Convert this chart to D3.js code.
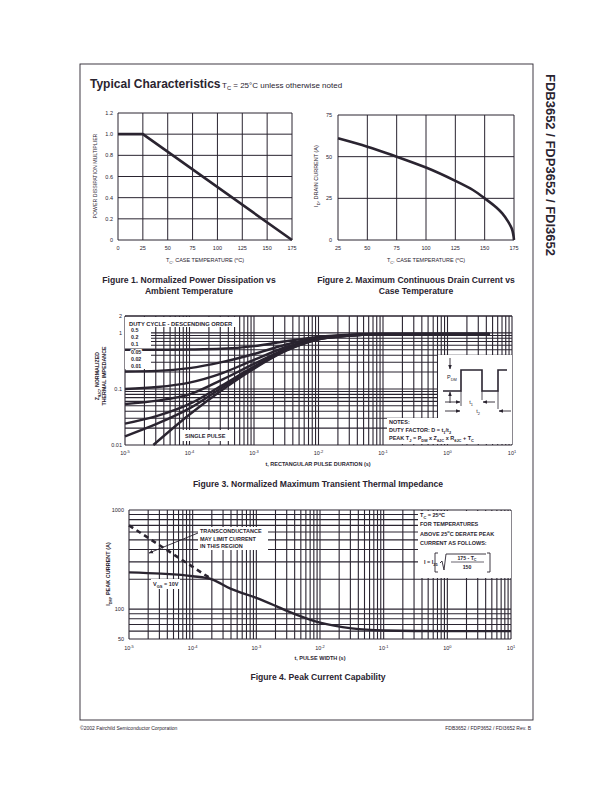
<!DOCTYPE html>
<html><head><meta charset="utf-8">
<script src="https://cdn.jsdelivr.net/npm/d3@7"></script>
<style>
body{margin:0;background:#fff}
svg{display:block}
text{font-family:"Liberation Sans",Arial,Helvetica,sans-serif;fill:#2a2430}
text.halo{stroke:#fff;stroke-width:2.2px;paint-order:stroke;stroke-linejoin:round}
</style>
</head><body>
<svg id="c" width="612" height="792"></svg>
<script>
// ---------------- DATA ----------------
// Figure 1
const fig1Temp = [0, 25, 175];
const fig1Mult = [1.0, 1.0, 0];
const fig1XTicks = [0, 25, 50, 75, 100, 125, 150, 175];
const fig1YTicks = [0, 0.2, 0.4, 0.6, 0.8, 1.0, 1.2];
// Figure 2
const fig2Temp = [25, 50, 75, 100, 125, 140, 150, 160, 165, 170, 173, 175];
const fig2Current = [61, 56, 50, 43.5, 35.5, 30, 25, 19.5, 16, 11, 7, 0];
const fig2XTicks = [25, 50, 75, 100, 125, 150, 175];
const fig2YTicks = [0, 25, 50, 75];
// Figure 3
const fig3Time = [1e-5, 3.16e-5, 1e-4, 3.16e-4, 1e-3, 3.16e-3, 1e-2, 3.16e-2, 1e-1, 1, 4.5];
const fig3D05 = [0.50, 0.50, 0.505, 0.52, 0.58, 0.71, 0.85, 0.93, 0.96, 0.96, 0.96];
const fig3D02 = [0.205, 0.21, 0.235, 0.30, 0.42, 0.62, 0.82, 0.92, 0.955, 0.96, 0.96];
const fig3D01 = [0.10, 0.108, 0.13, 0.19, 0.33, 0.56, 0.80, 0.91, 0.95, 0.955, 0.955];
const fig3D005 = [0.054, 0.062, 0.08, 0.145, 0.28, 0.52, 0.79, 0.905, 0.945, 0.95, 0.95];
const fig3D002 = [0.024, 0.033, 0.054, 0.115, 0.25, 0.50, 0.78, 0.90, 0.94, 0.945, 0.945];
const fig3D001 = [0.0143, 0.024, 0.045, 0.105, 0.24, 0.49, 0.77, 0.895, 0.94, 0.945, 0.945];
const fig3SingleTime = [2.75e-5, 1e-4, 3.16e-4, 1e-3, 3.16e-3, 1e-2, 3.16e-2, 1e-1, 1, 4.5];
const fig3Single = [0.01, 0.035, 0.095, 0.23, 0.48, 0.765, 0.895, 0.94, 0.945, 0.945];
const fig3DutyLabels = ["0.5", "0.2", "0.1", "0.05", "0.02", "0.01"];
const fig3YLabels = [2, 1, 0.1, 0.01];
const decadeExps = [-5, -4, -3, -2, -1, 0, 1];
// Figure 4
const fig4Time = [1e-5, 3.16e-5, 1e-4, 2e-4, 4e-4, 1e-3, 2e-3, 3.16e-3, 1e-2, 3.16e-2, 1e-1, 1, 10];
const fig4Current = [235, 228, 215, 200, 160, 130, 108, 95, 73, 64, 61, 60, 60];
const fig4DashTime = [1e-5, 2e-4];
const fig4DashCurrent = [700, 200];
const fig4YLabels = [1000, 100, 50];

// ---------------- HELPERS ----------------
const INK = "#2a2430";
const svg = d3.select("#c");
const defs = svg.append("defs");
defs.append("marker").attr("id","ah").attr("viewBox","0 0 10 10").attr("refX",9).attr("refY",5)
  .attr("markerWidth",5).attr("markerHeight",5).attr("orient","auto-start-reverse")
  .append("path").attr("d","M0,1 L10,5 L0,9 Z").attr("fill",INK);

function rich(parent, x, y, parts, size, opt = {}) {
  const t = parent.append("text").attr("x", x).attr("y", y).attr("font-size", size)
    .attr("text-anchor", opt.anchor || "start");
  if (opt.bold) t.attr("font-weight", "bold");
  if (opt.cls) t.attr("class", opt.cls);
  if (opt.rotate) t.attr("transform", `rotate(${opt.rotate},${x},${y})`);
  let cur = 0;
  parts.forEach(p => {
    if (typeof p === "string") p = { t: p };
    const off = p.sub ? size * 0.3 : p.sup ? -size * 0.45 : 0;
    const ts = t.append("tspan").text(p.t).attr("dy", off - cur);
    if (p.sub || p.sup) ts.attr("font-size", size * 0.72);
    cur = off;
  });
  return t;
}

// ---------------- PAGE ----------------
svg.append("rect").attr("x", 80).attr("y", 64).attr("width", 453).attr("height", 656)
  .attr("fill", "none").attr("stroke", INK).attr("stroke-width", 0.9);
rich(svg, 90, 88, ["Typical Characteristics"], 12, { bold: true });
rich(svg, 222, 88, ["T", { t: "C", sub: true }, " = 25°C unless otherwise noted"], 8);
rich(svg, 546, 165, ["FDB3652 / FDP3652 / FDI3652"], 13, { bold: true, anchor: "middle", rotate: 90 });
rich(svg, 80, 730, ["©2002 Fairchild Semiconductor Corporation"], 5);
rich(svg, 531, 730, ["FDB3652 / FDP3652 / FDI3652 Rev. B"], 5, { anchor: "end" });

// ---------------- FIGURE 1 ----------------
{
  const g = svg.append("g");
  const x = d3.scaleLinear().domain([0, 175]).range([118, 292]);
  const y = d3.scaleLinear().domain([0, 1.2]).range([240, 113]);
  g.selectAll(".vx").data(fig1XTicks).join("line")
    .attr("x1", d => x(d)).attr("x2", d => x(d)).attr("y1", y(0)).attr("y2", y(1.2))
    .attr("stroke", INK).attr("stroke-width", 1);
  g.selectAll(".hy").data(fig1YTicks).join("line")
    .attr("y1", d => y(d)).attr("y2", d => y(d)).attr("x1", x(0)).attr("x2", x(175))
    .attr("stroke", INK).attr("stroke-width", 1);
  g.append("path").datum(fig1Temp.map((t, i) => [t, fig1Mult[i]]))
    .attr("d", d3.line().x(d => x(d[0])).y(d => y(d[1])))
    .attr("fill", "none").attr("stroke", INK).attr("stroke-width", 2.6);
  fig1XTicks.forEach(t => rich(g, x(t), 250, [String(t)], 5.5, { anchor: "middle" }));
  fig1YTicks.forEach(v => rich(g, 113, y(v) + 2, [v === 0 ? "0" : v.toFixed(1)], 5.5, { anchor: "end" }));
  rich(g, 205, 262, ["T", { t: "C", sub: true }, ", CASE TEMPERATURE (", { t: "o", sup: true }, "C)"], 5.5, { anchor: "middle" });
  rich(g, 97, 176, ["POWER DISSIPATION MULTIPLIER"], 5.2, { anchor: "middle", rotate: -90 });
  rich(g, 189, 283, ["Figure 1.  Normalized Power Dissipation vs"], 8.6, { anchor: "middle", bold: true });
  rich(g, 189, 294, ["Ambient Temperature"], 8.6, { anchor: "middle", bold: true });
}

// ---------------- FIGURE 2 ----------------
{
  const g = svg.append("g");
  const x = d3.scaleLinear().domain([25, 175]).range([338, 514]);
  const y = d3.scaleLinear().domain([0, 75]).range([240, 115]);
  g.selectAll(".vx").data(fig2XTicks).join("line")
    .attr("x1", d => x(d)).attr("x2", d => x(d)).attr("y1", y(0)).attr("y2", y(75))
    .attr("stroke", INK).attr("stroke-width", 1);
  g.selectAll(".hy").data(fig2YTicks).join("line")
    .attr("y1", d => y(d)).attr("y2", d => y(d)).attr("x1", x(25)).attr("x2", x(175))
    .attr("stroke", INK).attr("stroke-width", 1);
  g.append("path").datum(fig2Temp.map((t, i) => [t, fig2Current[i]]))
    .attr("d", d3.line().x(d => x(d[0])).y(d => y(d[1])).curve(d3.curveMonotoneY))
    .attr("fill", "none").attr("stroke", INK).attr("stroke-width", 2.6);
  fig2XTicks.forEach(t => rich(g, x(t), 250, [String(t)], 5.5, { anchor: "middle" }));
  fig2YTicks.forEach(v => rich(g, 332, y(v) + 2, [String(v)], 5.5, { anchor: "end" }));
  rich(g, 426, 262, ["T", { t: "C", sub: true }, ", CASE TEMPERATURE (", { t: "o", sup: true }, "C)"], 5.5, { anchor: "middle" });
  rich(g, 318, 176, ["I", { t: "D", sub: true }, ", DRAIN CURRENT (A)"], 5.5, { anchor: "middle", rotate: -90 });
  rich(g, 416, 283, ["Figure 2.  Maximum Continuous Drain Current vs"], 8.6, { anchor: "middle", bold: true });
  rich(g, 416, 294, ["Case Temperature"], 8.6, { anchor: "middle", bold: true });
}

// ---------------- FIGURE 3 ----------------
{
  const g = svg.append("g");
  const x = d3.scaleLog().domain([1e-5, 10]).range([125, 512]);
  const y = d3.scaleLog().domain([0.01, 2]).range([445, 316]);
  const [x0, x1] = x.range(), [y0, y1] = y.range();
  g.selectAll(".vx").data(x.ticks()).join("line")
    .attr("x1", d => x(d)).attr("x2", d => x(d)).attr("y1", y0).attr("y2", y1)
    .attr("stroke", INK).attr("stroke-width", 1.1);
  g.selectAll(".hy").data(y.ticks().concat([2])).join("line")
    .attr("y1", d => y(d)).attr("y2", d => y(d)).attr("x1", x0).attr("x2", x1)
    .attr("stroke", INK).attr("stroke-width", 1.1);
  // white label boxes
  g.append("rect").attr("x", x0).attr("y", y1 + 1).attr("width", 112).attr("height", 10).attr("fill", "#fff");
  g.append("rect").attr("x", x0).attr("y", y1 + 10).attr("width", 26).attr("height", 43).attr("fill", "#fff");
  g.append("rect").attr("x", 181).attr("y", 430).attr("width", 50).attr("height", 11).attr("fill", "#fff");
  g.append("rect").attr("x", 438).attr("y", 355).attr("width", x1 - 438).attr("height", 64).attr("fill", "#fff");
  g.append("rect").attr("x", 387).attr("y", 418).attr("width", x1 - 387).attr("height", y0 - 418 - 1).attr("fill", "#fff");

  const line = d3.line().x(d => x(d[0])).y(d => y(d[1])).curve(d3.curveMonotoneX);
  [fig3D05, fig3D02, fig3D01, fig3D005, fig3D002, fig3D001].forEach(s => {
    g.append("path").datum(fig3Time.map((t, i) => [t, s[i]])).attr("d", line)
      .attr("fill", "none").attr("stroke", INK).attr("stroke-width", 2.4);
  });
  g.append("path").datum(fig3SingleTime.map((t, i) => [t, fig3Single[i]])).attr("d", line)
    .attr("fill", "none").attr("stroke", INK).attr("stroke-width", 2.4);

  rich(g, 129, 326, ["DUTY CYCLE - DESCENDING ORDER"], 5.8, { bold: true });
  fig3DutyLabels.forEach((s, i) => rich(g, 131, 332 + i * 7.2, [s], 5.3, { bold: true, cls: "halo" }));
  rich(g, 185, 438, ["SINGLE PULSE"], 5.5, { bold: true });

  // tick labels
  decadeExps.forEach(e => rich(g, x(Math.pow(10, e)), 455, ["10", { t: String(e), sup: true }], 5.5, { anchor: "middle" }));
  fig3YLabels.forEach(v => rich(g, 122, y(v) + 2, [String(v)], 5.5, { anchor: "end" }));
  rich(g, 318, 466, ["t, RECTANGULAR PULSE DURATION (s)"], 5.5, { anchor: "middle", bold: true });
  rich(g, 99, 376, ["Z", { t: "θJC", sub: true }, ", NORMALIZED"], 5.3, { anchor: "middle", rotate: -90, bold: true });
  rich(g, 106, 376, ["THERMAL IMPEDANCE"], 5.3, { anchor: "middle", rotate: -90, bold: true });
  rich(g, 318, 487, ["Figure 3.  Normalized Maximum Transient Thermal Impedance"], 8.6, { anchor: "middle", bold: true });

  // pulse diagram
  const bx = 438, by = 355;
  const hi = by + 15, lo = by + 36;
  g.append("path").attr("d", `M${bx+5},${lo} H${bx+23} V${hi} H${bx+44} V${lo} H${bx+60} V${hi} H${bx+69}`)
    .attr("fill", "none").attr("stroke", INK).attr("stroke-width", 1.6);
  g.append("line").attr("x1", bx+12).attr("x2", bx+12).attr("y1", by+3).attr("y2", hi-1)
    .attr("stroke", INK).attr("stroke-width", 0.9).attr("marker-end", "url(#ah)");
  g.append("line").attr("x1", bx+12).attr("x2", bx+12).attr("y1", lo+12).attr("y2", lo+1)
    .attr("stroke", INK).attr("stroke-width", 0.9).attr("marker-end", "url(#ah)");
  rich(g, bx+9, by+24, ["P", { t: "DM", sub: true }], 5.5);
  [[bx+23, lo, lo+15], [bx+44, lo, lo+9], [bx+60, lo, lo+18]].forEach(v =>
    g.append("line").attr("x1", v[0]).attr("x2", v[0]).attr("y1", v[1]).attr("y2", v[2]).attr("stroke", INK).attr("stroke-width", 0.8));
  g.append("line").attr("x1", bx+7).attr("x2", bx+22).attr("y1", lo+11).attr("y2", lo+11).attr("stroke", INK).attr("stroke-width", 0.9).attr("marker-end", "url(#ah)");
  g.append("line").attr("x1", bx+57).attr("x2", bx+45).attr("y1", lo+11).attr("y2", lo+11).attr("stroke", INK).attr("stroke-width", 0.9).attr("marker-end", "url(#ah)");
  rich(g, bx+33, lo+13, ["t", { t: "1", sub: true }], 5.5, { anchor: "middle" });
  g.append("line").attr("x1", bx+7).attr("x2", bx+22).attr("y1", lo+20).attr("y2", lo+20).attr("stroke", INK).attr("stroke-width", 0.9).attr("marker-end", "url(#ah)");
  g.append("line").attr("x1", bx+73).attr("x2", bx+61).attr("y1", lo+20).attr("y2", lo+20).attr("stroke", INK).attr("stroke-width", 0.9).attr("marker-end", "url(#ah)");
  rich(g, bx+40, lo+22, ["t", { t: "2", sub: true }], 5.5, { anchor: "middle" });

  rich(g, 389, 424, ["NOTES:"], 5.5, { bold: true });
  rich(g, 389, 432, ["DUTY FACTOR: D = t", { t: "1", sub: true }, "/t", { t: "2", sub: true }], 5.5, { bold: true });
  rich(g, 389, 440, ["PEAK T", { t: "J", sub: true }, " = P", { t: "DM", sub: true }, " x Z", { t: "θJC", sub: true }, " x R", { t: "θJC", sub: true }, " + T", { t: "C", sub: true }], 5.5, { bold: true });
}

// ---------------- FIGURE 4 ----------------
{
  const g = svg.append("g");
  const x = d3.scaleLog().domain([1e-5, 10]).range([129, 511]);
  const y = d3.scaleLog().domain([50, 1000]).range([639, 510]);
  const [x0, x1] = x.range(), [y0, y1] = y.range();
  g.selectAll(".vx").data(x.ticks()).join("line")
    .attr("x1", d => x(d)).attr("x2", d => x(d)).attr("y1", y0).attr("y2", y1)
    .attr("stroke", INK).attr("stroke-width", 1.1);
  g.selectAll(".hy").data(y.ticks()).join("line")
    .attr("y1", d => y(d)).attr("y2", d => y(d)).attr("x1", x0).attr("x2", x1)
    .attr("stroke", INK).attr("stroke-width", 1.1);
  g.append("rect").attr("x", 198).attr("y", 527).attr("width", 70).attr("height", 23).attr("fill", "#fff");
  g.append("rect").attr("x", 151).attr("y", 579).attr("width", 29).attr("height", 10).attr("fill", "#fff");
  g.append("rect").attr("x", 418).attr("y", y1 + 1).attr("width", x1 - 418).attr("height", 67).attr("fill", "#fff");

  const line = d3.line().x(d => x(d[0])).y(d => y(d[1])).curve(d3.curveMonotoneX);
  g.append("path").datum(fig4Time.map((t, i) => [t, fig4Current[i]])).attr("d", line)
    .attr("fill", "none").attr("stroke", INK).attr("stroke-width", 2.4);
  g.append("path").datum(fig4DashTime.map((t, i) => [t, fig4DashCurrent[i]]))
    .attr("d", d3.line().x(d => x(d[0])).y(d => y(d[1])))
    .attr("fill", "none").attr("stroke", INK).attr("stroke-width", 2.6).attr("stroke-dasharray", "5,4");

  rich(g, 200, 533, ["TRANSCONDUCTANCE"], 5.5, { bold: true });
  rich(g, 200, 540.5, ["MAY LIMIT CURRENT"], 5.5, { bold: true });
  rich(g, 200, 548, ["IN THIS REGION"], 5.5, { bold: true });
  g.append("line").attr("x1", 198).attr("y1", 533).attr("x2", 149).attr("y2", 553)
    .attr("stroke", INK).attr("stroke-width", 0.9).attr("marker-end", "url(#ah)");
  rich(g, 153, 586, ["V", { t: "GS", sub: true }, " = 10V"], 5.5, { bold: true });

  rich(g, 420, 517, ["T", { t: "C", sub: true }, " = 25", { t: "o", sup: true }, "C"], 5.5, { bold: true });
  rich(g, 420, 526, ["FOR TEMPERATURES"], 5.5, { bold: true });
  rich(g, 420, 535.5, ["ABOVE 25", { t: "o", sup: true }, "C DERATE PEAK"], 5.5, { bold: true });
  rich(g, 420, 545, ["CURRENT AS FOLLOWS:"], 5.5, { bold: true });
  rich(g, 424, 564, ["I = I", { t: "25", sub: true }], 5.5, { bold: true });
  g.append("path").attr("d", "M438,553 H435 V572 H438").attr("fill", "none").attr("stroke", INK).attr("stroke-width", 0.9);
  g.append("path").attr("d", "M487,553 H490 V572 H487").attr("fill", "none").attr("stroke", INK).attr("stroke-width", 0.9);
  g.append("path").attr("d", "M440,563 L442,561 L444,570 L446,554 H486").attr("fill", "none").attr("stroke", INK).attr("stroke-width", 0.9);
  g.append("line").attr("x1", 451).attr("x2", 484).attr("y1", 562).attr("y2", 562).attr("stroke", INK).attr("stroke-width", 0.7);
  rich(g, 467, 559.5, ["175 - T", { t: "C", sub: true }], 5.2, { anchor: "middle", bold: true });
  rich(g, 467, 569, ["150"], 5.2, { anchor: "middle", bold: true });

  decadeExps.forEach(e => rich(g, x(Math.pow(10, e)), 650, ["10", { t: String(e), sup: true }], 5.5, { anchor: "middle" }));
  fig4YLabels.forEach(v => rich(g, 124, y(v) + 2, [String(v)], 5.5, { anchor: "end" }));
  rich(g, 320, 660, ["t, PULSE WIDTH (s)"], 5.5, { anchor: "middle", bold: true });
  rich(g, 110, 574, ["I", { t: "DM", sub: true }, ", PEAK CURRENT (A)"], 5.5, { anchor: "middle", rotate: -90, bold: true });
  rich(g, 318, 680, ["Figure 4.  Peak Current Capability"], 8.6, { anchor: "middle", bold: true });
}
</script>
</body></html>
